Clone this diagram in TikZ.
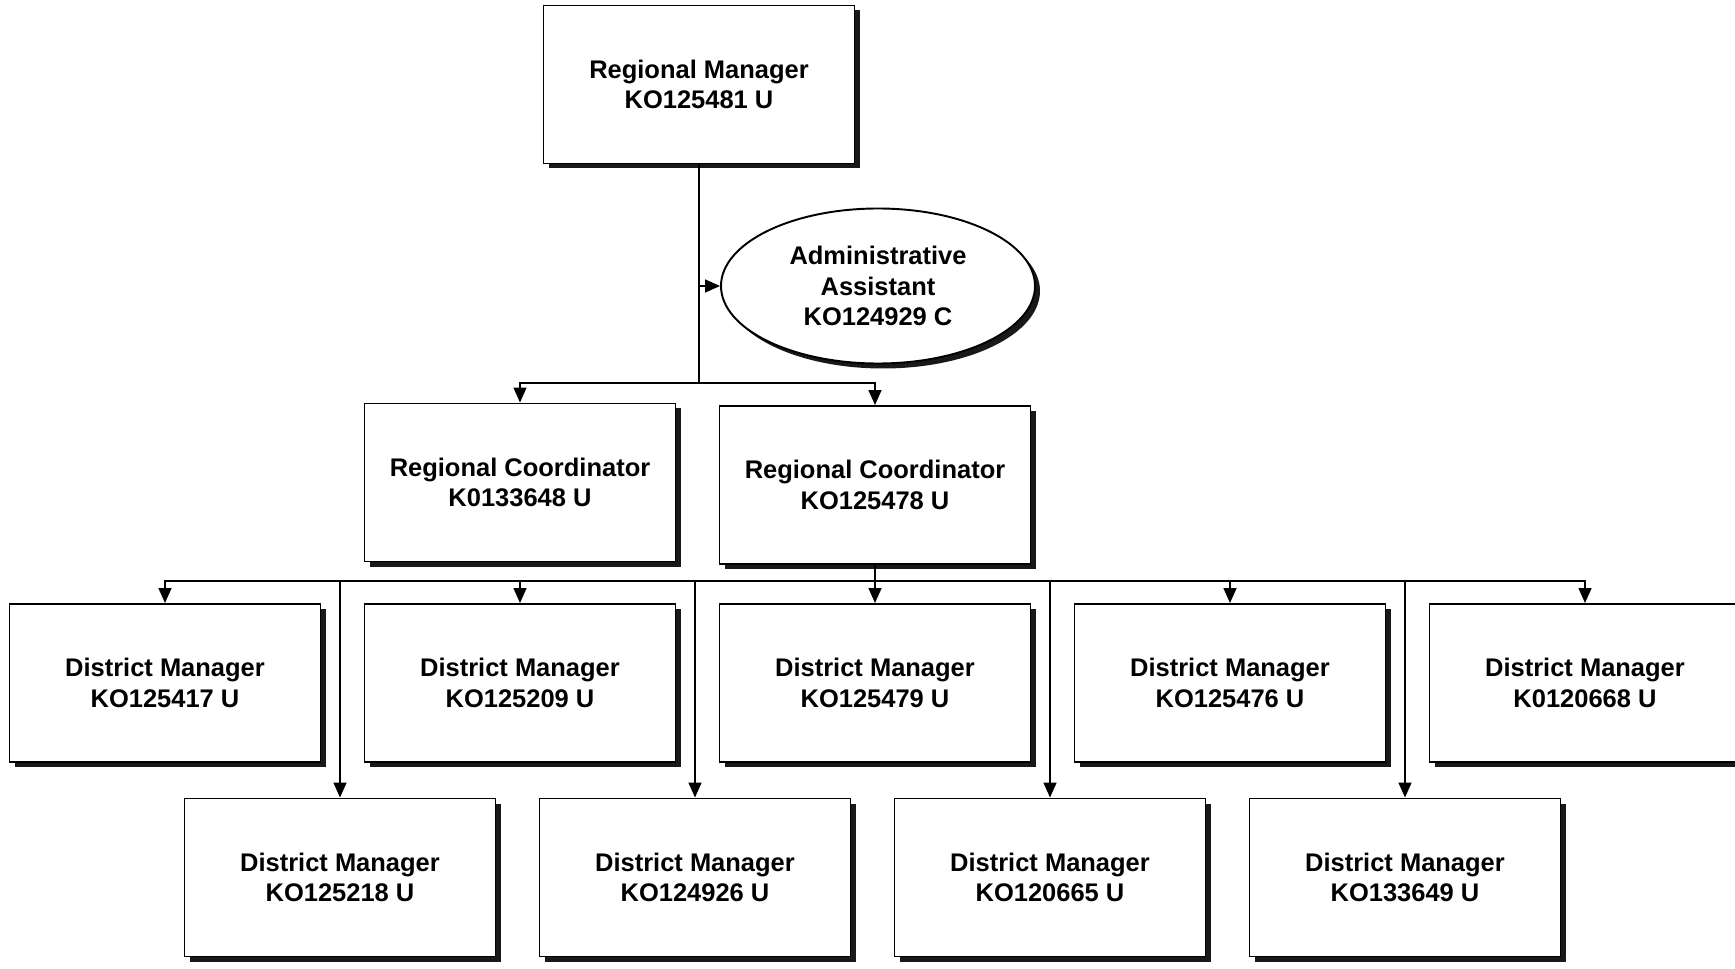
\documentclass[tikz,border=0pt]{standalone}
\usepackage{fontspec}
\setmainfont{Liberation Sans}
\usetikzlibrary{arrows.meta,shapes.geometric,shadows}

\begin{document}
\begin{tikzpicture}[
	>={Triangle[length=0.3cm,width=0.26cm]},
	post/.style={draw, line width=1.1pt, fill=white, minimum width=6.22cm, minimum height=3.16cm, align=center, font=\bfseries\fontsize{14.5}{17.5}\selectfont, drop shadow={shadow xshift=0.1cm, shadow yshift=-0.1cm, fill=black, opacity=0.9}},
	assist/.style={post, ellipse, minimum width=6.28cm, minimum height=3.1cm},
	link/.style={line width=0.85pt}
	]
	\useasboundingbox (0,0) rectangle (34.70,-19.38);

	\node[post] (0) at (13.98,-1.69) {Regional Manager\\KO125481 U};
	\node[assist] (1) at (17.56,-5.72) {Administrative\\Assistant\\KO124929 C};
	\node[post] (2) at (10.40,-9.65) {Regional Coordinator\\K0133648 U};
	\node[post] (3) at (17.50,-9.70) {Regional Coordinator\\KO125478 U};

	\node[post] (4) at (3.30,-13.66) {District Manager\\KO125417 U};
	\node[post] (5) at (10.40,-13.66) {District Manager\\KO125209 U};
	\node[post] (6) at (17.50,-13.66) {District Manager\\KO125479 U};
	\node[post] (7) at (24.60,-13.66) {District Manager\\KO125476 U};
	\node[post] (8) at (31.70,-13.66) {District Manager\\K0120668 U};

	\node[post] (9) at (6.80,-17.55) {District Manager\\KO125218 U};
	\node[post] (10) at (13.90,-17.55) {District Manager\\KO124926 U};
	\node[post] (11) at (21.00,-17.55) {District Manager\\KO120665 U};
	\node[post] (12) at (28.10,-17.55) {District Manager\\KO133649 U};

	\coordinate (a) at (13.98,-7.66);
	\coordinate (b) at (17.50,-11.62);

	\draw[link] (0) -- (a);
	\draw[link, ->] (0.south |- 1.west) -- (1.west);
	\draw[link, ->] (a) -| (2);
	\draw[link, ->] (a) -| (3);

	\draw[link] (3) -- (b);
	\draw[link, ->] (b) -| (4);
	\draw[link, ->] (b) -| (5);
	\draw[link, ->] (b) -- (6);
	\draw[link, ->] (b) -| (7);
	\draw[link, ->] (b) -| (8);
	\draw[link, ->] (b) -| (9);
	\draw[link, ->] (b) -| (10);
	\draw[link, ->] (b) -| (11);
	\draw[link, ->] (b) -| (12);
\end{tikzpicture}
\end{document}
